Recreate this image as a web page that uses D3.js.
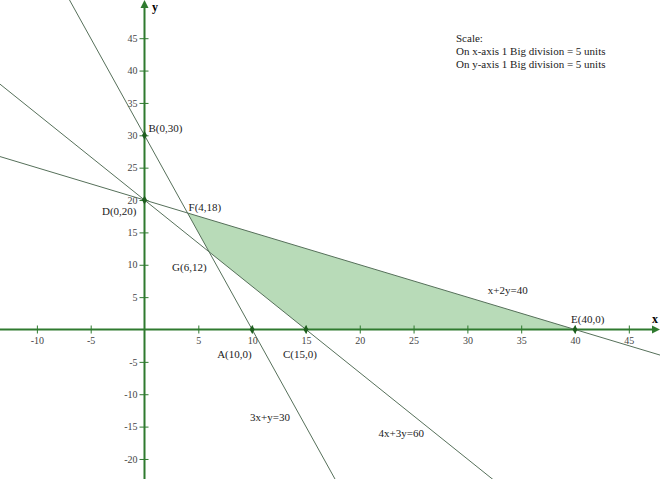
<!DOCTYPE html>
<html>
<head>
<meta charset="utf-8">
<script src="https://cdn.jsdelivr.net/npm/d3@7"></script>
<style>
body { margin: 0; background: #fff; }
text { font-family: "Liberation Serif", "Times New Roman", serif; }
</style>
</head>
<body>
<script>
var width = 660;
var height = 479;

// tick values
var xTicks = [-10, -5, 5, 10, 15, 20, 25, 30, 35, 40, 45];
var yTicks = [-20, -15, -10, -5, 5, 10, 15, 20, 25, 30, 35, 40, 45];

// constraint lines a*x + b*y = c
var lines = [
  { a: 3, b: 1, c: 30, label: "3x+y=30", lx: 9.8, ly: -14.1 },
  { a: 4, b: 3, c: 60, label: "4x+3y=60", lx: 21.75, ly: -16.6 },
  { a: 1, b: 2, c: 40, label: "x+2y=40", lx: 31.9, ly: 5.5 }
];

// feasible region corners
var region = [[4, 18], [40, 0], [15, 0], [6, 12]];

// marked points
var points = [
  { name: "B(0,30)", x: 0, y: 30, dot: true, dx: 4, dy: -3, anchor: "start" },
  { name: "D(0,20)", x: 0, y: 20, dot: true, dx: -8, dy: 15, anchor: "end" },
  { name: "F(4,18)", x: 4, y: 18, dot: false, dx: 1, dy: -2, anchor: "start" },
  { name: "G(6,12)", x: 6, y: 12, dot: false, dx: -37, dy: 19, anchor: "start" },
  { name: "A(10,0)", x: 10, y: 0, dot: true, dx: -35, dy: 28, anchor: "start" },
  { name: "C(15,0)", x: 15, y: 0, dot: true, dx: -23, dy: 28, anchor: "start" },
  { name: "E(40,0)", x: 40, y: 0, dot: true, dx: -4, dy: -7, anchor: "start" }
];

var scaleNote = ["Scale:", "On x-axis 1 Big division = 5 units", "On y-axis 1 Big division = 5 units"];

var x = d3.scaleLinear().domain([0, 40]).range([144.5, 575]);
var y = d3.scaleLinear().domain([0, 30]).range([329.5, 135.3]);

var svg = d3.select('body').append('svg').attr('width', width).attr('height', height);

svg.append("defs").append("clipPath").attr("id", "clip")
  .append("rect").attr("width", width).attr("height", height);

var axisColor = "#2f7a2f";
var lineColor = "#56705a";

// shaded region
svg.append("polygon")
  .attr("points", region.map(function (p) { return x(p[0]) + "," + y(p[1]); }).join(" "))
  .attr("fill", "#b8dbb8");

// axes
var plain = function (d) { return String(d); };
var xAxis = svg.append("g")
  .attr("transform", "translate(0," + y(0) + ")")
  .call(d3.axisBottom(x).tickValues(xTicks).tickSize(4).tickPadding(3).tickFormat(plain));
xAxis.select(".domain").remove();
xAxis.selectAll(".tick line").attr("y1", -4).attr("stroke", axisColor);
xAxis.selectAll(".tick text").attr("fill", "#444").style("font-size", "10px")
  .style("font-family", "Liberation Serif, serif");

var yAxis = svg.append("g")
  .attr("transform", "translate(" + x(0) + ",0)")
  .call(d3.axisLeft(y).tickValues(yTicks).tickSize(5).tickPadding(2).tickFormat(plain));
yAxis.select(".domain").remove();
yAxis.selectAll(".tick line").attr("x1", 4).attr("stroke", axisColor);
yAxis.selectAll(".tick text").attr("fill", "#444").style("font-size", "10px")
  .style("font-family", "Liberation Serif, serif");

svg.append("line")
  .attr("x1", 0).attr("x2", width - 6)
  .attr("y1", y(0)).attr("y2", y(0))
  .attr("stroke", axisColor).attr("stroke-width", 2);
svg.append("line")
  .attr("x1", x(0)).attr("x2", x(0))
  .attr("y1", 6).attr("y2", height)
  .attr("stroke", axisColor).attr("stroke-width", 2);

// arrow heads
svg.append("path")
  .attr("d", "M" + (width) + "," + y(0) + "l-8,-4l0,8z")
  .attr("fill", axisColor);
svg.append("path")
  .attr("d", "M" + x(0) + ",0l-4,8l8,0z")
  .attr("fill", axisColor);

svg.append("text").attr("x", 652).attr("y", 323).text("x")
  .style("font-size", "12px").style("font-weight", "bold");
svg.append("text").attr("x", 152).attr("y", 11).text("y")
  .style("font-size", "12px").style("font-weight", "bold");

// constraint lines
var x0 = x.invert(-10), x1 = x.invert(width + 10);
svg.append("g").attr("clip-path", "url(#clip)")
  .selectAll("line")
  .data(lines)
  .enter().append("line")
  .attr("x1", function (d) {
    if (d.b === 1) return x((d.c - d.b * y.invert(-10)) / d.a);
    return x(x0);
  })
  .attr("y1", function (d) {
    if (d.b === 1) return -10;
    return y((d.c - d.a * x0) / d.b);
  })
  .attr("x2", function (d) {
    if (d.b === 1) return x((d.c - d.b * y.invert(height + 10)) / d.a);
    return x(x1);
  })
  .attr("y2", function (d) {
    if (d.b === 1) return height + 10;
    return y((d.c - d.a * x1) / d.b);
  })
  .attr("stroke", lineColor)
  .attr("stroke-width", 1);

svg.selectAll(".eqlabel")
  .data(lines)
  .enter().append("text")
  .attr("x", function (d) { return x(d.lx); })
  .attr("y", function (d) { return y(d.ly); })
  .text(function (d) { return d.label; })
  .style("font-size", "11px").attr("fill", "#222");

// points
svg.selectAll(".dot")
  .data(points.filter(function (d) { return d.dot; }))
  .enter().append("path")
  .attr("d", d3.symbol().type(d3.symbolDiamond).size(22))
  .attr("transform", function (d) { return "translate(" + x(d.x) + "," + y(d.y) + ")"; })
  .attr("fill", "#1e5e1e");

svg.selectAll(".plabel")
  .data(points)
  .enter().append("text")
  .attr("x", function (d) { return x(d.x) + d.dx; })
  .attr("y", function (d) { return y(d.y) + d.dy; })
  .attr("text-anchor", function (d) { return d.anchor; })
  .text(function (d) { return d.name; })
  .style("font-size", "11px").attr("fill", "#222");

// scale note
svg.selectAll(".note")
  .data(scaleNote)
  .enter().append("text")
  .attr("x", 456)
  .attr("y", function (d, i) { return 42 + i * 13; })
  .text(function (d) { return d; })
  .style("font-size", "11px").attr("fill", "#222");
</script>
</body>
</html>
